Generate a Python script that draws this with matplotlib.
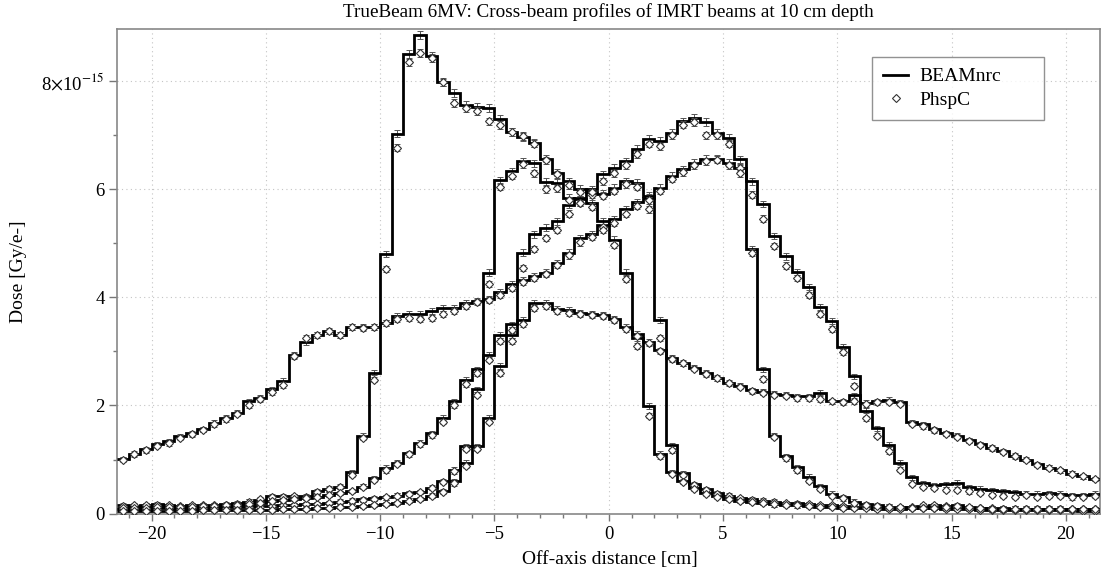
import numpy as np
import matplotlib
matplotlib.use("Agg")
import matplotlib.pyplot as plt
from matplotlib.lines import Line2D
from matplotlib.ticker import MultipleLocator, FixedLocator, FixedFormatter

plt.rcParams['font.family'] = ['Liberation Serif', 'DejaVu Serif']
plt.rcParams['mathtext.fontset'] = 'stix'

# Bin edges of the scoring grid (0.5 cm bins)
edges = np.arange(-21.5, 21.51, 0.5)
centres = 0.5 * (edges[:-1] + edges[1:])

# BEAMnrc dose profiles, 1e-15 Gy/e- per bin
beam_1 = [0.15, 0.14, 0.16, 0.17, 0.15, 0.14, 0.15, 0.16, 0.15, 0.17,
          0.19, 0.22, 0.25, 0.32, 0.32, 0.32, 0.32, 0.41, 0.46, 0.50,
          0.77, 1.44, 2.61, 4.81, 7.03, 8.51, 8.86, 8.47, 7.99, 7.78,
          7.57, 7.53, 7.51, 7.30, 7.06, 6.97, 6.86, 6.57, 6.31, 6.15,
          6.01, 5.95, 5.92, 6.03, 6.15, 6.12, 5.88, 3.59, 1.26, 0.75,
          0.55, 0.45, 0.38, 0.33, 0.29, 0.26, 0.24, 0.22, 0.20, 0.19,
          0.17, 0.16, 0.15, 0.14, 0.13, 0.12, 0.12, 0.11, 0.11, 0.12,
          0.14, 0.16, 0.14, 0.12, 0.11, 0.10, 0.10, 0.10, 0.09, 0.09,
          0.09, 0.09, 0.09, 0.08, 0.08, 0.08]
beam_2 = [0.08, 0.09, 0.09, 0.10, 0.10, 0.09, 0.10, 0.11, 0.11, 0.12,
          0.12, 0.13, 0.14, 0.14, 0.15, 0.16, 0.17, 0.18, 0.20, 0.22,
          0.24, 0.26, 0.28, 0.30, 0.33, 0.38, 0.40, 0.48, 0.60, 0.81,
          1.25, 2.30, 4.46, 6.17, 6.34, 6.52, 6.48, 6.14, 6.12, 5.85,
          5.82, 5.75, 5.41, 5.07, 4.46, 3.25, 1.99, 1.11, 0.77, 0.60,
          0.47, 0.38, 0.32, 0.27, 0.24, 0.21, 0.19, 0.17, 0.16, 0.15,
          0.14, 0.13, 0.12, 0.11, 0.10, 0.10, 0.09, 0.09, 0.09, 0.10,
          0.12, 0.10, 0.09, 0.08, 0.08, 0.07, 0.07, 0.07, 0.07, 0.06,
          0.06, 0.06, 0.06, 0.06, 0.05, 0.05]
beam_3 = [0.10, 0.11, 0.12, 0.12, 0.12, 0.13, 0.13, 0.14, 0.14, 0.15,
          0.16, 0.18, 0.20, 0.23, 0.25, 0.27, 0.29, 0.31, 0.35, 0.38,
          0.42, 0.50, 0.66, 0.85, 0.94, 1.12, 1.31, 1.49, 1.77, 2.08,
          2.48, 2.67, 2.94, 3.30, 3.50, 3.59, 3.90, 3.90, 3.78, 3.76,
          3.72, 3.70, 3.67, 3.60, 3.45, 3.32, 3.18, 3.02, 2.88, 2.79,
          2.70, 2.60, 2.51, 2.42, 2.37, 2.28, 2.25, 2.22, 2.20, 2.17,
          2.17, 2.24, 2.08, 2.08, 2.19, 2.05, 2.08, 2.10, 2.06, 1.69,
          1.65, 1.56, 1.49, 1.44, 1.36, 1.28, 1.22, 1.15, 1.07, 1.00,
          0.91, 0.85, 0.80, 0.74, 0.69, 0.64]
beam_4 = [0.04, 0.04, 0.05, 0.05, 0.05, 0.05, 0.05, 0.06, 0.06, 0.06,
          0.06, 0.07, 0.07, 0.07, 0.08, 0.08, 0.09, 0.10, 0.11, 0.12,
          0.13, 0.14, 0.16, 0.18, 0.20, 0.24, 0.27, 0.33, 0.42, 0.60,
          0.94, 1.25, 1.77, 2.73, 3.30, 4.83, 5.17, 5.29, 5.41, 5.72,
          5.85, 6.00, 6.28, 6.40, 6.52, 6.75, 6.94, 6.90, 7.05, 7.26,
          7.33, 7.25, 7.05, 6.96, 6.56, 6.15, 5.73, 5.14, 4.76, 4.47,
          4.20, 3.83, 3.56, 3.09, 2.54, 1.90, 1.58, 1.27, 0.94, 0.67,
          0.56, 0.52, 0.54, 0.57, 0.49, 0.46, 0.43, 0.41, 0.39, 0.37,
          0.37, 0.38, 0.37, 0.34, 0.34, 0.37]
beam_5 = [1.01, 1.11, 1.19, 1.28, 1.34, 1.43, 1.49, 1.56, 1.68, 1.77,
          1.86, 2.08, 2.14, 2.30, 2.45, 2.94, 3.17, 3.31, 3.38, 3.31,
          3.46, 3.46, 3.46, 3.53, 3.65, 3.70, 3.70, 3.75, 3.81, 3.81,
          3.89, 3.93, 3.97, 4.10, 4.24, 4.33, 4.39, 4.46, 4.64, 4.83,
          5.10, 5.17, 5.35, 5.45, 5.63, 5.76, 5.85, 6.03, 6.25, 6.37,
          6.49, 6.57, 6.57, 6.49, 6.39, 4.89, 2.67, 1.44, 1.06, 0.86,
          0.68, 0.51, 0.37, 0.31, 0.22, 0.17, 0.15, 0.13, 0.12, 0.11,
          0.11, 0.10, 0.12, 0.16, 0.12, 0.10, 0.09, 0.09, 0.09, 0.08,
          0.08, 0.08, 0.09, 0.08, 0.08, 0.08]

# PhspC dose profiles, same bins
phsp_1 = [0.14, 0.15, 0.15, 0.16, 0.16, 0.14, 0.15, 0.15, 0.16, 0.16,
          0.18, 0.22, 0.26, 0.31, 0.31, 0.32, 0.31, 0.40, 0.45, 0.49,
          0.72, 1.40, 2.48, 4.53, 6.77, 8.35, 8.53, 8.44, 7.98, 7.60,
          7.51, 7.45, 7.26, 7.19, 7.06, 6.99, 6.85, 6.54, 6.28, 6.08,
          5.95, 5.90, 5.88, 5.98, 6.10, 6.05, 5.63, 3.25, 1.17, 0.72,
          0.53, 0.43, 0.37, 0.32, 0.28, 0.25, 0.23, 0.21, 0.19, 0.18,
          0.17, 0.16, 0.15, 0.14, 0.13, 0.12, 0.11, 0.11, 0.11, 0.12,
          0.15, 0.15, 0.14, 0.12, 0.11, 0.10, 0.10, 0.09, 0.09, 0.09,
          0.09, 0.09, 0.08, 0.08, 0.08, 0.08]
phsp_2 = [0.08, 0.08, 0.09, 0.09, 0.10, 0.09, 0.10, 0.10, 0.11, 0.11,
          0.12, 0.13, 0.13, 0.14, 0.15, 0.16, 0.17, 0.18, 0.19, 0.21,
          0.23, 0.25, 0.27, 0.30, 0.33, 0.37, 0.40, 0.47, 0.58, 0.78,
          1.20, 2.20, 4.25, 6.05, 6.25, 6.47, 6.30, 6.00, 6.02, 5.80,
          5.75, 5.68, 5.30, 4.98, 4.35, 3.10, 1.81, 1.06, 0.74, 0.58,
          0.46, 0.37, 0.31, 0.27, 0.24, 0.21, 0.19, 0.17, 0.16, 0.15,
          0.14, 0.13, 0.12, 0.11, 0.10, 0.10, 0.09, 0.09, 0.09, 0.10,
          0.11, 0.10, 0.09, 0.08, 0.08, 0.07, 0.07, 0.07, 0.07, 0.06,
          0.06, 0.06, 0.06, 0.06, 0.05, 0.05]
phsp_3 = [0.10, 0.11, 0.11, 0.12, 0.12, 0.13, 0.13, 0.14, 0.14, 0.15,
          0.16, 0.18, 0.20, 0.23, 0.25, 0.27, 0.29, 0.31, 0.35, 0.38,
          0.42, 0.50, 0.62, 0.80, 0.92, 1.10, 1.28, 1.45, 1.70, 2.00,
          2.40, 2.60, 2.85, 3.20, 3.40, 3.50, 3.80, 3.85, 3.75, 3.72,
          3.70, 3.68, 3.65, 3.58, 3.42, 3.28, 3.15, 3.00, 2.86, 2.78,
          2.68, 2.58, 2.50, 2.41, 2.35, 2.27, 2.24, 2.20, 2.18, 2.14,
          2.13, 2.12, 2.08, 2.06, 2.08, 2.02, 2.06, 2.07, 2.03, 1.66,
          1.62, 1.54, 1.48, 1.42, 1.35, 1.27, 1.21, 1.14, 1.06, 0.99,
          0.90, 0.85, 0.80, 0.74, 0.69, 0.64]
phsp_4 = [0.04, 0.04, 0.05, 0.05, 0.05, 0.05, 0.05, 0.06, 0.06, 0.06,
          0.06, 0.07, 0.07, 0.07, 0.08, 0.08, 0.09, 0.10, 0.11, 0.12,
          0.13, 0.14, 0.16, 0.18, 0.20, 0.24, 0.27, 0.32, 0.40, 0.56,
          0.88, 1.20, 1.70, 2.60, 3.20, 4.55, 4.90, 5.10, 5.25, 5.55,
          5.75, 5.95, 6.15, 6.30, 6.45, 6.65, 6.85, 6.80, 7.00, 7.20,
          7.25, 7.00, 7.00, 6.85, 6.40, 5.90, 5.46, 4.95, 4.59, 4.36,
          4.04, 3.70, 3.41, 2.99, 2.37, 1.76, 1.44, 1.15, 0.81, 0.55,
          0.50, 0.47, 0.44, 0.44, 0.41, 0.38, 0.34, 0.33, 0.31, 0.34,
          0.31, 0.33, 0.32, 0.30, 0.31, 0.32]
phsp_5 = [1.00, 1.10, 1.17, 1.25, 1.30, 1.40, 1.47, 1.55, 1.65, 1.75,
          1.85, 2.00, 2.12, 2.25, 2.38, 2.92, 3.25, 3.30, 3.37, 3.30,
          3.45, 3.43, 3.45, 3.52, 3.60, 3.62, 3.60, 3.62, 3.70, 3.75,
          3.85, 3.92, 3.95, 4.05, 4.18, 4.28, 4.36, 4.44, 4.60, 4.78,
          5.02, 5.12, 5.25, 5.38, 5.55, 5.70, 5.80, 5.98, 6.20, 6.32,
          6.45, 6.52, 6.55, 6.45, 6.30, 4.83, 2.49, 1.42, 1.02, 0.80,
          0.60, 0.45, 0.33, 0.28, 0.20, 0.16, 0.14, 0.13, 0.12, 0.11,
          0.11, 0.10, 0.12, 0.14, 0.12, 0.10, 0.09, 0.09, 0.09, 0.08,
          0.08, 0.08, 0.08, 0.08, 0.08, 0.08]

beamnrc = [beam_1, beam_2, beam_3, beam_4, beam_5]
phspc = [phsp_1, phsp_2, phsp_3, phsp_4, phsp_5]

y_ticks = [0, 2, 4, 6, 8]
y_tick_labels = ['0', '2', '4', '6', r'8$\times$10$^{-15}$']

fig = plt.figure(figsize=(11.01, 5.73), dpi=100)
ax = fig.add_axes([0.1065, 0.1038, 0.8928, 0.8456])

grey = '#555555'
for beam, phsp in zip(beamnrc, phspc):
    beam = np.asarray(beam)
    phsp = np.asarray(phsp)
    # statistical uncertainty of each bin
    beam_err = 0.04 + 0.004 * beam
    phsp_err = 0.04 + 0.004 * phsp
    ax.errorbar(centres, beam, yerr=beam_err, fmt='none', ecolor=grey,
                elinewidth=0.7, capsize=2.5, capthick=0.7, zorder=2)
    ax.stairs(beam, edges, color='black', linewidth=2.0, baseline=None, zorder=3)
    ax.errorbar(centres, phsp, yerr=phsp_err, fmt='none', ecolor=grey,
                elinewidth=0.7, capsize=2.5, capthick=0.7, zorder=4)
    ax.plot(centres, phsp, linestyle='none', marker='D', markersize=3.6,
            markerfacecolor='white', markeredgecolor='#333333',
            markeredgewidth=0.8, zorder=5)

ax.set_xlim(-21.5, 21.5)
ax.set_ylim(0, 8.97)
ax.xaxis.set_major_locator(MultipleLocator(5))
ax.xaxis.set_minor_locator(MultipleLocator(1))
ax.yaxis.set_major_locator(FixedLocator(y_ticks))
ax.yaxis.set_major_formatter(FixedFormatter(y_tick_labels))
ax.yaxis.set_minor_locator(MultipleLocator(1))
ax.xaxis.set_major_formatter(plt.FuncFormatter(lambda v, p: f'{v:.0f}'.replace('-', '\u2212')))

ax.tick_params(which='both', direction='out', colors='#777777', labelcolor='black',
               labelsize=13.5, width=1.0)
ax.tick_params(axis='x', which='major', length=5, pad=4)
ax.tick_params(axis='x', which='minor', length=3)
ax.tick_params(axis='y', which='major', length=6, pad=3)
ax.tick_params(axis='y', which='minor', length=3)

for s in ax.spines.values():
    s.set_color('#888888')
    s.set_linewidth(1.2)

ax.grid(True, which='major', linestyle=(0, (1, 3)), color='#c4c4c4', linewidth=0.8)
ax.set_axisbelow(True)

fig.text(0.553, 0.979, 'TrueBeam 6MV: Cross-beam profiles of IMRT beams at 10 cm depth',
         ha='center', va='center', fontsize=13.8)
fig.text(0.554, 0.024, 'Off-axis distance [cm]', ha='center', va='center', fontsize=14)
fig.text(0.0165, 0.525, 'Dose [Gy/e-]', ha='center', va='center', rotation=90, fontsize=14)

handles = [Line2D([], [], color='black', linewidth=2.0),
           Line2D([], [], linestyle='none', marker='D', markersize=3.6,
                  markerfacecolor='white', markeredgecolor='#333333', markeredgewidth=0.8)]
leg = ax.legend(handles, ['BEAMnrc', 'PhspC'], loc='upper left',
                bbox_to_anchor=(0.768, 0.942, 0.175, 0.0), mode='expand',
                borderaxespad=0.0, fontsize=14, frameon=True, fancybox=False,
                handlelength=1.3, borderpad=0.55, labelspacing=0.3, handletextpad=0.6)
leg.get_frame().set_edgecolor('#777777')
leg.get_frame().set_linewidth(1.0)

fig.savefig('out.png', dpi=100)
